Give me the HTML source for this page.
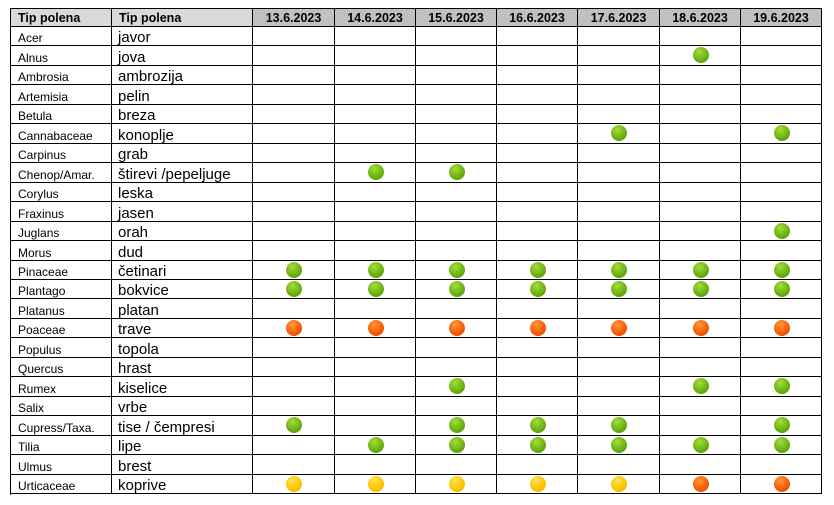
<!DOCTYPE html>
<html><head><meta charset="utf-8"><style>
body{margin:0;width:834px;height:505px;background:#fff;position:relative;overflow:hidden;font-family:"Liberation Sans",Arial,sans-serif}
.c{position:absolute;box-sizing:border-box;border-right:1px solid #000;border-bottom:1px solid #000;white-space:nowrap;overflow:hidden}
.h{font-weight:bold;font-size:12.5px;line-height:19px}
.d{position:absolute;width:16px;height:16px;border-radius:50%}
.g{background:radial-gradient(circle at 40% 30%,#a6dc3a,#6cb314 55%,#4a8c05)}
.r{background:radial-gradient(circle at 40% 30%,#ff9a3a,#f75d08 55%,#d84000)}
.y{background:radial-gradient(circle at 40% 30%,#ffe45a,#ffc400 55%,#f0a800)}
</style></head><body>
<div id="t" style="position:absolute;left:10px;top:8px;width:812px;height:487px;border-left:1px solid #000;border-top:1px solid #000;box-sizing:border-box"></div>
<script>
const dates=["13.6.2023","14.6.2023","15.6.2023","16.6.2023","17.6.2023","18.6.2023","19.6.2023"];
const latin=["Acer","Alnus","Ambrosia","Artemisia","Betula","Cannabaceae","Carpinus","Chenop/Amar.","Corylus","Fraxinus","Juglans","Morus","Pinaceae","Plantago","Platanus","Poaceae","Populus","Quercus","Rumex","Salix","Cupress/Taxa.","Tilia","Ulmus","Urticaceae"];
const local=["javor","jova","ambrozija","pelin","breza","konoplje","grab","štirevi /pepeljuge","leska","jasen","orah","dud","četinari","bokvice","platan","trave","topola","hrast","kiselice","vrbe","tise / čempresi","lipe","brest","koprive"];
const levels=[".......",".....g.",".......",".......",".......","....g.g",".......",".gg....",".......",".......","......g",".......","ggggggg","ggggggg",".......","rrrrrrr",".......",".......","..g..gg",".......","g.ggg.g",".gggggg",".......","yyyyyrr"];
const X=[10,112,253,335,416,497,578,660,741,822];
const top0=8,hh=19,rh=(494-27)/24;
function cell(x1,x2,y1,y2,name){const d=document.createElement('div');d.className='c';d.style.left=x1+'px';d.style.top=y1+'px';d.style.width=(x2-x1)+'px';d.style.height=(y2-y1)+'px';


document.body.appendChild(d);return d;}
let h=cell(X[0],X[1],top0,top0+hh,'header-latin');h.classList.add('h');h.style.background='#d9d9d9';h.style.paddingLeft='7px';h.textContent='Tip polena';h.style.borderLeft='1px solid #000';h.style.borderTop='1px solid #000';
h=cell(X[1],X[2],top0,top0+hh,'header-local');h.classList.add('h');h.style.background='#d9d9d9';h.style.paddingLeft='7px';h.textContent='Tip polena';h.style.borderTop='1px solid #000';
dates.forEach((dt,i)=>{const c=cell(X[i+2],X[i+3],top0,top0+hh,'header-date');c.classList.add('h');c.style.background='#c0c0c0';c.style.textAlign='center';c.style.borderTop='1px solid #000';c.textContent=dt;});
latin.forEach((n,r)=>{const y1=Math.round(27+r*rh),y2=Math.round(27+(r+1)*rh);
let c=cell(X[0],X[1],y1,y2,'latin-name');c.style.borderLeft='1px solid #000';c.style.fontSize='12px';c.style.paddingLeft='7px';c.style.lineHeight=(y2-y1+4)+'px';c.textContent=n;
c=cell(X[1],X[2],y1,y2,'local-name');c.style.fontSize='15px';c.style.paddingLeft='6px';c.style.lineHeight=(y2-y1+3)+'px';c.textContent=local[r];
for(let i=0;i<7;i++){cell(X[i+2],X[i+3],y1,y2,'level-cell');const l=levels[r][i];
if(l!=='.'){const d=document.createElement('div');d.className='d '+l;d.style.left=((X[i+2]+X[i+3])/2-8)+'px';d.style.top=(y1+1)+'px';


document.body.appendChild(d);}}});
</script></body></html>
